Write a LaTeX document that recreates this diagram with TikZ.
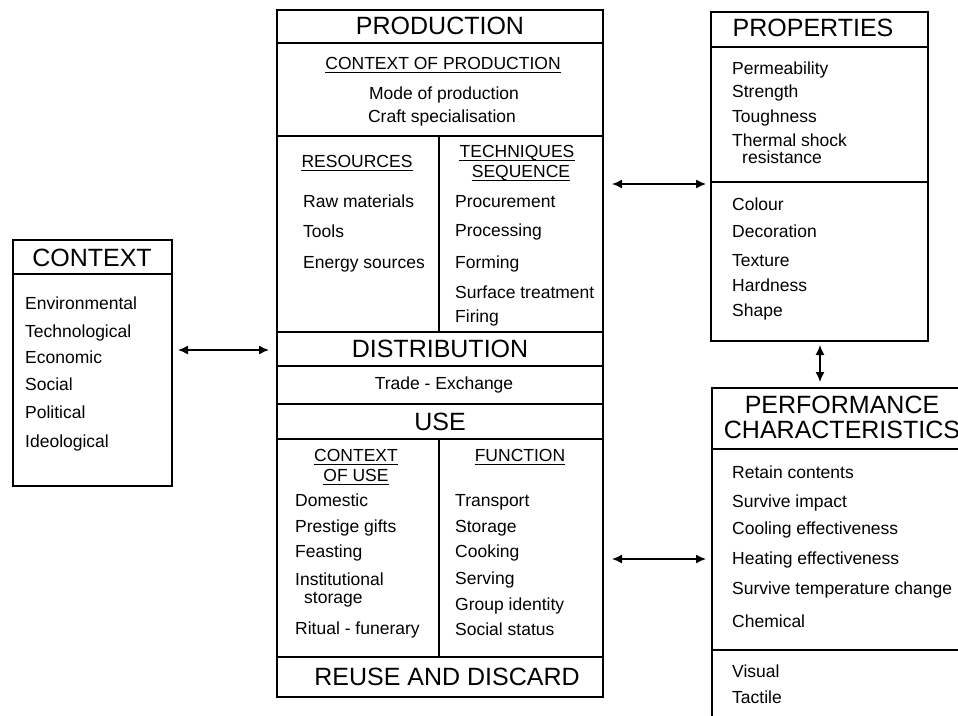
\documentclass[tikz,border=0pt]{standalone}
\usepackage{fontspec}
\setmainfont{Liberation Sans}
\usetikzlibrary{arrows.meta}
\tikzset{
  box/.style={draw, line width=1.4pt, outer sep=0pt, inner sep=0pt},
  divline/.style={line width=1.4pt},
  body/.style={font=\fontsize{17.5}{20}\selectfont, inner sep=0pt, anchor=base west},
  head/.style={font=\fontsize{25}{28}\selectfont, inner sep=0pt, anchor=base},
  sub/.style={font=\fontsize{17.5}{20}\selectfont, inner sep=0pt, anchor=base},
  ulline/.style={line width=1pt},
  arr/.style={line width=1.4pt, {Latex[length=10pt,width=9pt]}-{Latex[length=10pt,width=9pt]}},
}
\newcommand\ulnode[4]{\node[sub] (#1) at (#2,#3) {#4};
  \draw[ulline] ([yshift=-3pt]#1.base west) -- ([yshift=-3pt]#1.base east);}
\begin{document}
\begin{tikzpicture}[x=1pt,y=-1pt]
\useasboundingbox (0,0) rectangle (958,715);
\clip (0,0) rectangle (958,715);
\fill[white] (0,0) rectangle (958,715);

% ---------- boxes ----------
\node[box, anchor=north west, minimum width=326pt, minimum height=687pt] (mainbox) at (277,10) {};
\node[box, anchor=north west, minimum width=217pt, minimum height=329pt] (propbox) at (711,12) {};
\node[box, anchor=north west, minimum width=268pt, minimum height=352pt] (perfbox) at (712,388) {};
\node[box, anchor=north west, minimum width=159pt, minimum height=246pt] (ctxbox) at (13,240) {};

% main box divisions
\foreach \yy in {43,136,332,366,404,439,657}
  \draw[divline] (277,\yy) -- (603,\yy);
\draw[divline] (439,136) -- (439,332);
\draw[divline] (439,439) -- (439,657);
% properties divisions
\foreach \yy in {47,182}
  \draw[divline] (711,\yy) -- (928,\yy);
% performance divisions
\foreach \yy in {449,650}
  \draw[divline] (712,\yy) -- (980,\yy);
% context division
\draw[divline] (13,274) -- (172,274);

% ---------- main box text ----------
\node[head] (hprod) at (440,34) {PRODUCTION};
\ulnode{hcop}{443}{69}{CONTEXT OF PRODUCTION}
\node[sub] (mode) at (444,99) {Mode of production};
\node[sub] (craft) at (442,122) {Craft specialisation};
\ulnode{hres}{357}{167}{RESOURCES}
\ulnode{htech}{517}{157}{TECHNIQUES}
\ulnode{hseq}{521}{177}{SEQUENCE}
\node[body] (raw) at (303,207) {Raw materials};
\node[body] (tools) at (303,237) {Tools};
\node[body] (energy) at (303,268) {Energy sources};
\node[body] (procure) at (455,207) {Procurement};
\node[body] (process) at (455,236) {Processing};
\node[body] (forming) at (455,268) {Forming};
\node[body] (surface) at (455,298) {Surface treatment};
\node[body] (firing) at (455,322) {Firing};

\node[head] (hdist) at (440,357) {DISTRIBUTION};
\node[sub] (trade) at (444,389) {Trade - Exchange};
\node[head] (huse) at (440,430) {USE};
\ulnode{hcou}{356}{461}{CONTEXT}
\ulnode{hofuse}{356}{481}{OF USE}
\ulnode{hfunc}{520}{461}{FUNCTION}
\node[body] (domestic) at (295,506) {Domestic};
\node[body] (prestige) at (295,532) {Prestige gifts};
\node[body] (feasting) at (295,557) {Feasting};
\node[body] (instit) at (295,585) {Institutional};
\node[body] (istorage) at (304,603) {storage};
\node[body] (ritual) at (295,634) {Ritual - funerary};
\node[body] (transport) at (455,506) {Transport};
\node[body] (storage) at (455,532) {Storage};
\node[body] (cooking) at (455,557) {Cooking};
\node[body] (serving) at (455,584) {Serving};
\node[body] (group) at (455,610) {Group identity};
\node[body] (social) at (455,635) {Social status};
\node[head] (hreuse) at (447,685) {REUSE AND DISCARD};

% ---------- properties ----------
\node[head] (hprop) at (813,36) {PROPERTIES};
\node[body] (perm) at (732,74) {Permeability};
\node[body] (strength) at (732,97) {Strength};
\node[body] (tough) at (732,122) {Toughness};
\node[body] (thermal) at (732,146) {Thermal shock};
\node[body] (resist) at (742,163) {resistance};
\node[body] (colour) at (732,210) {Colour};
\node[body] (decor) at (732,237) {Decoration};
\node[body] (texture) at (732,266) {Texture};
\node[body] (hard) at (732,291) {Hardness};
\node[body] (shape) at (732,316) {Shape};

% ---------- performance ----------
\node[head] (hperf) at (842,413) {PERFORMANCE};
\node[head] (hchar) at (842,438) {CHARACTERISTICS};
\node[body] (retain) at (732,478) {Retain contents};
\node[body] (impact) at (732,507) {Survive impact};
\node[body] (cool) at (732,534) {Cooling effectiveness};
\node[body] (heat) at (732,564) {Heating effectiveness};
\node[body] (temp) at (732,594) {Survive temperature change};
\node[body] (chem) at (732,627) {Chemical};
\node[body] (visual) at (732,677) {Visual};
\node[body] (tactile) at (732,703) {Tactile};

% ---------- context ----------
\node[head] (hctx) at (92,266) {CONTEXT};
\node[body] (env) at (25,309) {Environmental};
\node[body] (tech) at (25,337) {Technological};
\node[body] (econ) at (25,363) {Economic};
\node[body] (soc) at (25,390) {Social};
\node[body] (pol) at (25,418) {Political};
\node[body] (ideo) at (25,447) {Ideological};

% ---------- connectors ----------
\draw[arr, shorten <=6pt, shorten >=8pt] (ctxbox.east |- 0,350) -- (mainbox.west |- 0,350);
\draw[arr, shorten <=9pt, shorten >=5pt] (mainbox.east |- 0,184) -- (propbox.west |- 0,184);
\draw[arr, shorten <=9pt, shorten >=6pt] (mainbox.east |- 0,559) -- (perfbox.west |- 0,559);
\draw[arr, shorten <=4pt, shorten >=6pt] (propbox.south -| 820,0) -- (perfbox.north -| 820,0);
\end{tikzpicture}
\end{document}
